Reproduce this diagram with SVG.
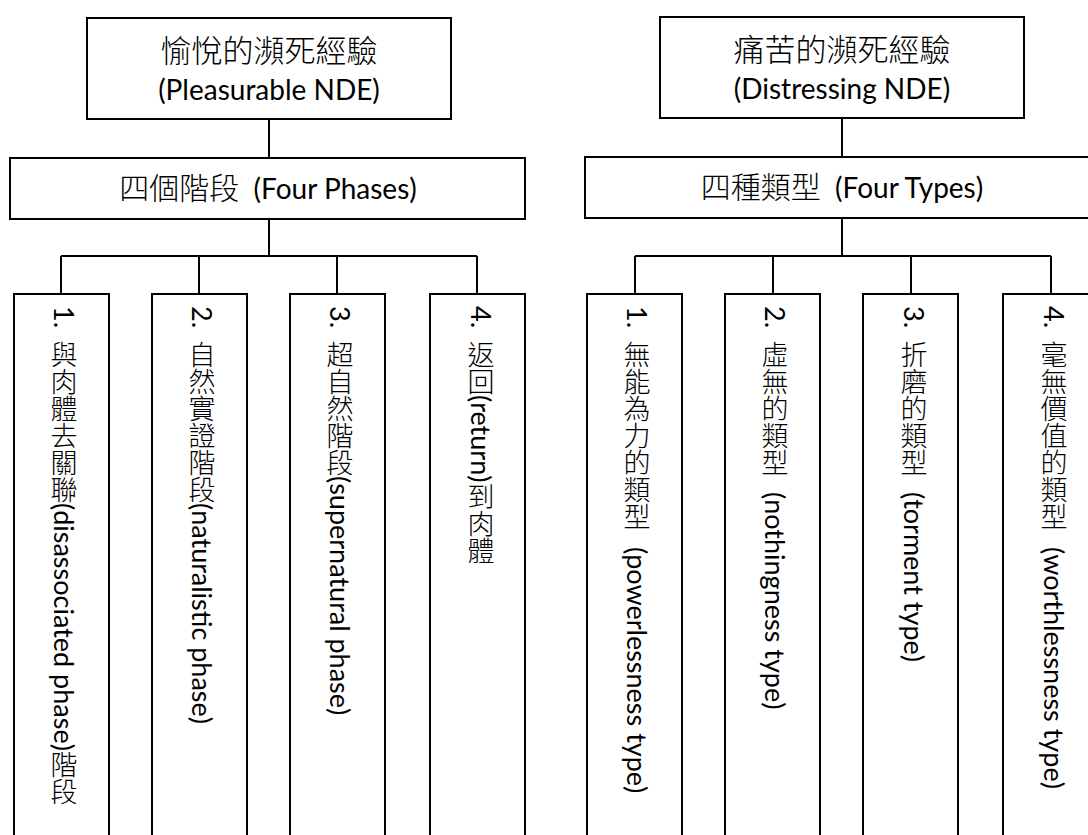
<svg xmlns="http://www.w3.org/2000/svg" width="1088" height="835" viewBox="0 0 1088 835">
<style>
.box{fill:#fff;stroke:#000;stroke-width:2}
.conn{fill:none;stroke:#000;stroke-width:2}
text{font-family:Lato,"Noto Sans CJK TC",sans-serif;fill:#000}
.cjk{font-family:"Noto Sans CJK TC",sans-serif;font-weight:300}
.h{text-anchor:middle}
.v{writing-mode:vertical-rl;text-orientation:mixed;font-size:27px}
</style>
<rect width="1088" height="835" fill="#fff"/>
<g id="connectors">
<path class="conn" d="M269 119V158M269 219V256M61 256H477M61 256V294M199 256V294M337 256V294M477 256V294"/>
<path class="conn" d="M842 118V157M842 218V256M635 256H1051M635 256V294M773 256V294M911 256V294M1051 256V294"/>
</g>
<g id="pleasurable">
<rect class="box" x="87" y="18" width="364" height="101"/>
<text class="h" x="269" y="62"><tspan class="cjk" font-size="31">愉悅的瀕死經驗</tspan></text>
<text class="h" x="269" y="100" font-size="28">(Pleasurable NDE)</text>
</g>
<g id="four-phases">
<rect class="box" x="10" y="158" width="515" height="61"/>
<text class="h" x="268" y="199" font-size="28" xml:space="preserve"><tspan class="cjk" font-size="30">四個階段</tspan>  (Four Phases)</text>
</g>
<g id="phase1">
<rect class="box" x="14" y="294" width="95" height="550"/>
<text class="v" x="64" y="306">1.<tspan class="cjk" y="341">與肉體去關聯</tspan><tspan>(disassociated phase)</tspan><tspan class="cjk">階段</tspan></text>
</g>
<g id="phase2">
<rect class="box" x="152" y="294" width="95" height="550"/>
<text class="v" x="202" y="306">2.<tspan class="cjk" y="341">自然實證階段</tspan><tspan>(naturalistic phase)</tspan></text>
</g>
<g id="phase3">
<rect class="box" x="290" y="294" width="95" height="550"/>
<text class="v" x="340" y="306">3.<tspan class="cjk" y="341">超自然階段</tspan><tspan>(supernatural phase)</tspan></text>
</g>
<g id="phase4">
<rect class="box" x="430" y="294" width="95" height="550"/>
<text class="v" x="481" y="306">4.<tspan class="cjk" y="341">返回</tspan><tspan>(return)</tspan><tspan class="cjk">到肉體</tspan></text>
</g>
<g id="distressing">
<rect class="box" x="660" y="17" width="364" height="101"/>
<text class="h" x="842" y="61"><tspan class="cjk" font-size="31">痛苦的瀕死經驗</tspan></text>
<text class="h" x="842" y="99" font-size="28">(Distressing NDE)</text>
</g>
<g id="four-types">
<rect class="box" x="585" y="157" width="520" height="61"/>
<text class="h" x="842" y="198" font-size="28" xml:space="preserve"><tspan class="cjk" font-size="30">四種類型</tspan>  (Four Types)</text>
</g>
<g id="type1">
<rect class="box" x="587" y="294" width="95" height="550"/>
<text class="v" x="637" y="306">1.<tspan class="cjk" y="341">無能為力的類型</tspan><tspan y="547">(powerlessness type)</tspan></text>
</g>
<g id="type2">
<rect class="box" x="725" y="294" width="95" height="550"/>
<text class="v" x="775" y="306">2.<tspan class="cjk" y="341">虛無的類型</tspan><tspan y="492">(nothingness type)</tspan></text>
</g>
<g id="type3">
<rect class="box" x="863" y="294" width="95" height="550"/>
<text class="v" x="914" y="306">3.<tspan class="cjk" y="341">折磨的類型</tspan><tspan y="492">(torment type)</tspan></text>
</g>
<g id="type4">
<rect class="box" x="1003" y="294" width="95" height="550"/>
<text class="v" x="1054" y="306">4.<tspan class="cjk" y="341">毫無價值的類型</tspan><tspan y="547">(worthlessness type)</tspan></text>
</g>
</svg>
